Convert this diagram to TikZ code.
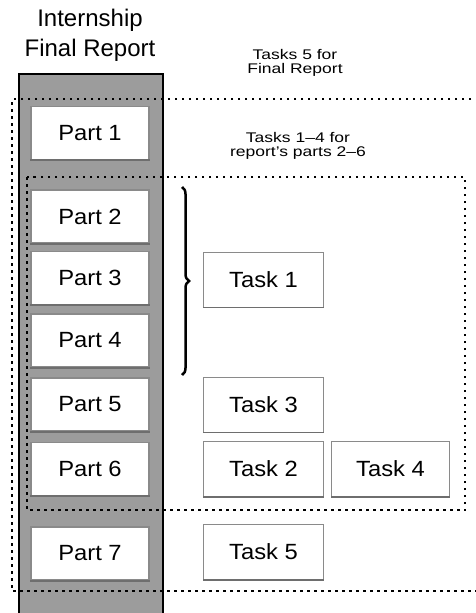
\documentclass[tikz,border=0pt]{standalone}
\usepackage{fontspec}
\usepackage{graphicx}
\setmainfont{Liberation Sans}
\usetikzlibrary{decorations.pathreplacing}
\definecolor{colgray}{HTML}{9C9C9C}
\definecolor{boxline}{HTML}{8A8A8A}
\definecolor{boxdark}{HTML}{6E6E6E}
\newcommand{\wtext}[2]{\scalebox{#1}[1]{#2}}
\tikzset{
  partbox/.style={draw=boxline, line width=1.6pt, fill=white, minimum width=118pt, minimum height=53pt, inner sep=0pt, font=\fontsize{22}{24}\selectfont},
  taskbox/.style={draw=boxline, line width=1pt, fill=white, minimum width=120pt, minimum height=55pt, inner sep=0pt, font=\fontsize{22}{24}\selectfont},
  dotline/.style={line width=2.3pt, dash pattern=on 2.5pt off 4.5pt},
  smalltext/.style={align=center, font=\fontsize{14}{14}\selectfont},
}
\begin{document}
\begin{tikzpicture}[x=1pt,y=-1pt]
\useasboundingbox (0,0) rectangle (475,613);
% title
\node[align=center, font=\fontsize{24}{30}\selectfont] (title) at (90,35) {Internship\\Final Report};
% column
\draw[fill=colgray, line width=1.5pt] (19,620) -- (19,74) -- (163,74) -- (163,620);
% parts
\node[partbox] (p1) at (90,133) {\wtext{1.08}{Part 1}};
\node[partbox] (p2) at (90,216.5) {\wtext{1.08}{Part 2}};
\node[partbox] (p3) at (90,278) {\wtext{1.08}{Part 3}};
\node[partbox] (p4) at (90,340.5) {\wtext{1.08}{Part 4}};
\node[partbox] (p5) at (90,404.5) {\wtext{1.08}{Part 5}};
\node[partbox] (p6) at (90,469) {\wtext{1.08}{Part 6}};
\node[partbox] (p7) at (90,553.5) {\wtext{1.08}{Part 7}};
\foreach \p in {p1,p2,p3,p4,p5,p6,p7}{
  \draw[boxdark, line width=1.8pt] (\p.south west) -- (\p.south east);
}
% tasks
\node[taskbox] (t1) at (263.5,279.5) {\wtext{1.08}{Task 1}};
\node[taskbox] (t3) at (263.5,404.5) {\wtext{1.08}{Task 3}};
\node[taskbox] (t2) at (263.5,469) {\wtext{1.08}{Task 2}};
\node[taskbox, minimum width=118pt] (t4) at (390.5,469) {\wtext{1.08}{Task 4}};
\node[taskbox] (t5) at (263.5,552) {\wtext{1.08}{Task 5}};
\foreach \t in {t1,t3,t2,t4,t5}{
  \draw[boxdark, line width=1.3pt] (\t.south west) -- (\t.south east);
}
% dotted frames
\coordinate (outerTL) at (12,99);
\coordinate (outerBR) at (485,591);
\draw[dotline] (485,99) -- (outerTL) -- (12,591) -- (outerBR);
\coordinate (innerTL) at (27,177);
\coordinate (innerBR) at (465,510);
\draw[dotline] (innerTL) rectangle (innerBR);
% brace
\coordinate (bt) at (182,187);
\coordinate (bb) at (182,375);
\draw[line width=2.5pt, decorate, decoration={brace, amplitude=7pt}] (bt) -- (bb);
% labels
\node[smalltext] (lab5) at (295,63) {\wtext{1.25}{Tasks 5 for}\\\wtext{1.25}{Final Report}};
\node[smalltext] (lab14) at (298,146) {\wtext{1.25}{Tasks 1–4 for}\\\wtext{1.25}{report's parts 2–6}};
\end{tikzpicture}
\end{document}
